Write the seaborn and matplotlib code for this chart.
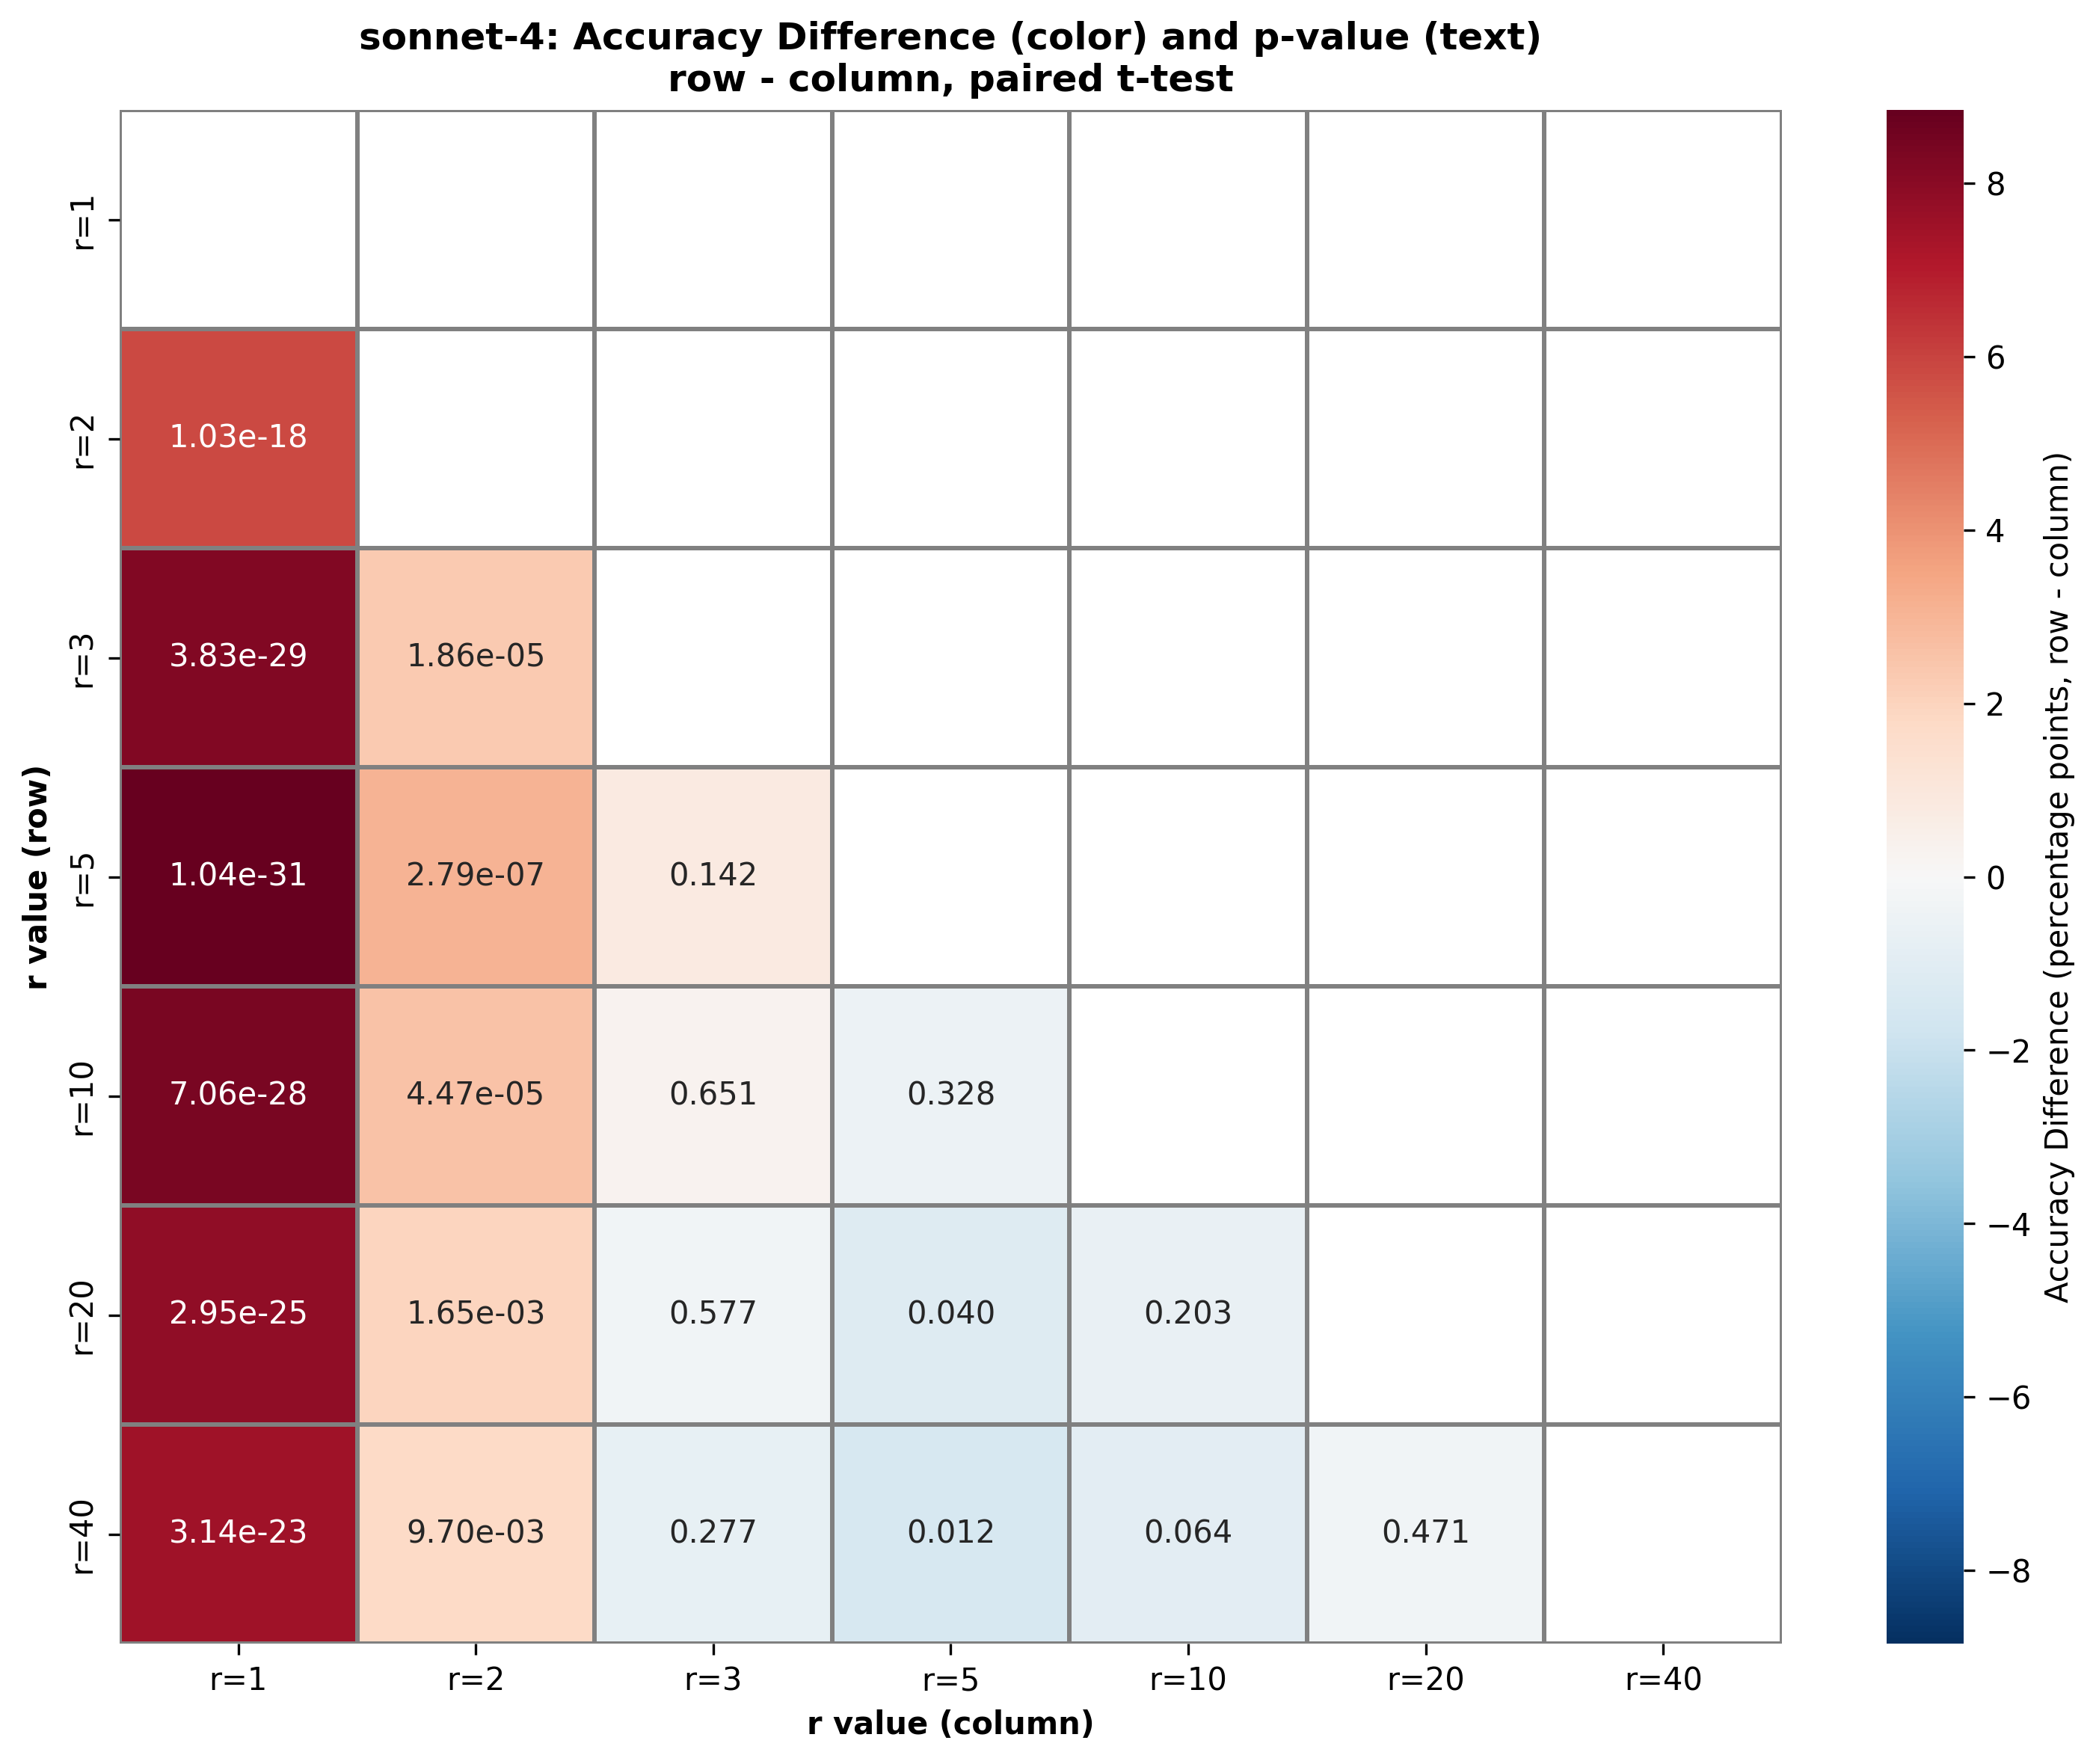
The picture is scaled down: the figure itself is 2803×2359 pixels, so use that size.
import numpy as np
import pandas as pd
import seaborn as sns
import matplotlib.pyplot as plt

# r values compared (rows and columns share the same order)
r_labels = ["r=1", "r=2", "r=3", "r=5", "r=10", "r=20", "r=40"]

# accuracy difference (row - column), lower triangle only, read per row
diff_r2 = [5.84]
diff_r3 = [8.20, 2.33]
diff_r5 = [8.85, 3.08, 0.82]
diff_r10 = [8.40, 2.62, 0.32, -0.51]
diff_r20 = [7.86, 2.00, -0.32, -1.17, -0.69]
diff_r40 = [7.50, 1.77, -0.74, -1.49, -0.94, -0.32]

# p-values of the paired t-test, same layout
p_r2 = ["1.03e-18"]
p_r3 = ["3.83e-29", "1.86e-05"]
p_r5 = ["1.04e-31", "2.79e-07", "0.142"]
p_r10 = ["7.06e-28", "4.47e-05", "0.651", "0.328"]
p_r20 = ["2.95e-25", "1.65e-03", "0.577", "0.040", "0.203"]
p_r40 = ["3.14e-23", "9.70e-03", "0.277", "0.012", "0.064", "0.471"]

diff_rows = [[], diff_r2, diff_r3, diff_r5, diff_r10, diff_r20, diff_r40]
p_rows = [[], p_r2, p_r3, p_r5, p_r10, p_r20, p_r40]

n = len(r_labels)
diff = np.full((n, n), np.nan)
pvals = np.full((n, n), "", dtype=object)
for i in range(n):
    for j, v in enumerate(diff_rows[i]):
        diff[i, j] = v
        pvals[i, j] = p_rows[i][j]

diff_df = pd.DataFrame(diff, index=r_labels, columns=r_labels)
mask = np.triu(np.ones((n, n), dtype=bool))
vmax = np.nanmax(np.abs(diff))

W, H = 2804, 2359
fig = plt.figure(figsize=(W / 300, H / 300), dpi=300)
ax = fig.add_axes([160 / W, 1 - 2198 / H, 2223 / W, 2051 / H])
cax = fig.add_axes([2523 / W, 1 - 2198 / H, 103 / W, 2051 / H])

sns.heatmap(diff_df, mask=mask, annot=pvals, fmt="", cmap="RdBu_r",
            vmin=-vmax, vmax=vmax, center=0, linewidths=1, linecolor="gray",
            annot_kws={"size": 10}, ax=ax, cbar_ax=cax,
            cbar_kws={"label": "Accuracy Difference (percentage points, row - column)"})

ax.set_title("sonnet-4: Accuracy Difference (color) and p-value (text)\nrow - column, paired t-test",
             fontsize=12, fontweight="bold")
ax.set_xlabel("r value (column)", fontsize=10, fontweight="bold")
ax.set_ylabel("r value (row)", fontsize=10, fontweight="bold")
ax.tick_params(labelsize=10)
cax.tick_params(labelsize=10)
cax.yaxis.label.set_size(10)

fig.savefig("out.png", dpi=300)
plt.close(fig)
